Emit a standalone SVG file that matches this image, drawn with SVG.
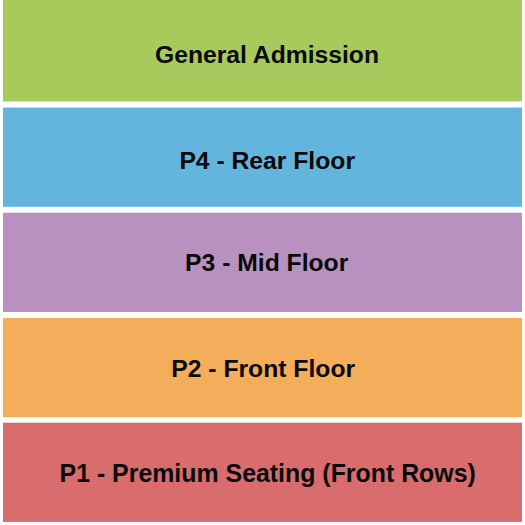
<svg xmlns="http://www.w3.org/2000/svg" width="525" height="525" viewBox="0 0 525 525">
<style>
.lbl{font-family:"Liberation Sans",Arial,sans-serif;font-weight:bold;font-size:24.7px;fill:#0a0a0a;text-anchor:middle}
</style>
<rect width="525" height="525" fill="#ffffff"/>
<g id="ga"><rect x="3" y="0" width="519" height="101.5" fill="#a8c95b"/><text class="lbl" x="267" y="63">General Admission</text></g>
<g id="p4"><rect x="3" y="107.5" width="519" height="99.3" fill="#64b5dd"/><text class="lbl" x="267.2" y="168.5">P4 - Rear Floor</text></g>
<g id="p3"><rect x="3" y="212.7" width="519" height="99.3" fill="#b891c0"/><text class="lbl" x="266.7" y="271">P3 - Mid Floor</text></g>
<g id="p2"><rect x="3" y="318" width="519" height="99.2" fill="#f4ad5a"/><text class="lbl" x="263.2" y="377">P2 - Front Floor</text></g>
<g id="p1"><rect x="3" y="422.7" width="519" height="99.3" fill="#d96c6c"/><text class="lbl" x="267.7" y="482" style="font-size:24.9px">P1 - Premium Seating (Front Rows)</text></g>
<g id="connectors"></g>
</svg>
